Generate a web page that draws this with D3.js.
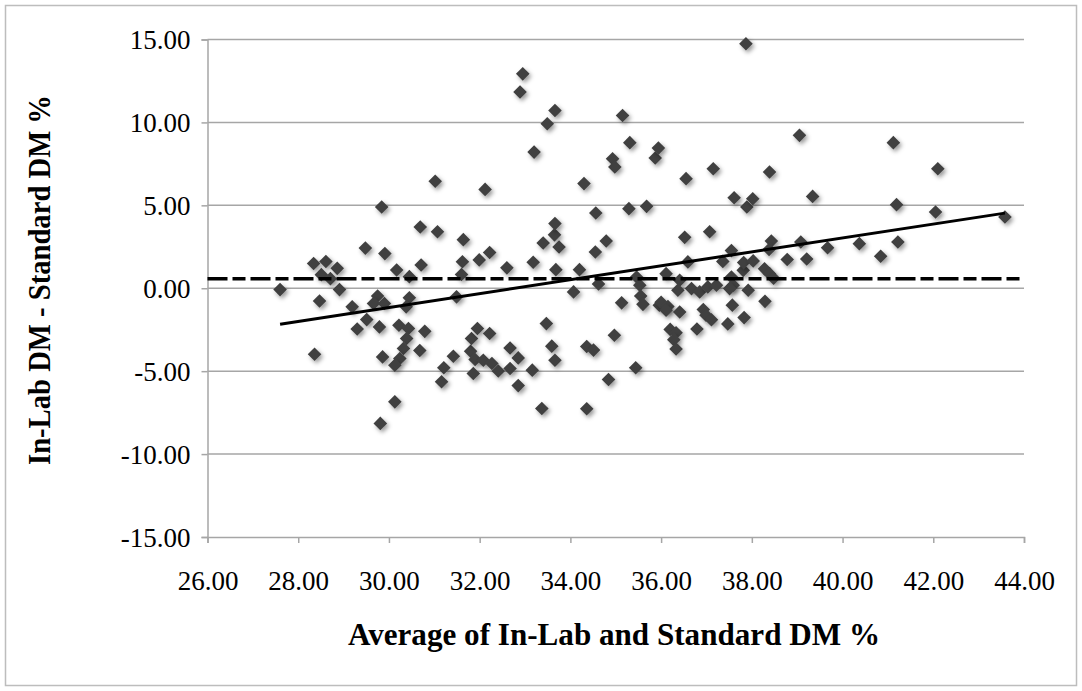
<!DOCTYPE html>
<html>
<head>
<meta charset="utf-8">
<script src="https://cdn.jsdelivr.net/npm/d3@7"></script>
<style>
  html, body { margin: 0; padding: 0; background: #fff; }
  svg { display: block; }
  text { font-family: "Liberation Serif", "Times New Roman", serif; fill: #000; }
</style>
</head>
<body>
<svg id="chart" width="1082" height="691"></svg>
<script>
// Bland-Altman style comparison: average of the two DM methods vs. their difference
const avgDM = [
  27.60, 28.34, 28.61, 28.86, 28.51, 28.71, 28.91, 28.47, 28.36,
  29.48, 29.91, 29.84, 29.19, 29.51, 29.30, 29.79, 29.75, 29.66, 29.90, 29.86, 30.13, 29.81,
  30.17, 30.45, 30.71, 30.69, 31.07, 31.02, 30.45, 30.38, 30.22, 30.43, 30.79, 30.39, 30.32, 30.24, 30.13, 30.68,
  31.64, 31.62, 31.60, 31.49, 31.21, 31.16, 31.42, 31.80, 31.82, 31.95, 31.90, 32.08, 31.86, 32.22, 31.99, 32.12, 32.22,
  32.60, 32.27, 32.41, 32.67, 32.85, 32.67, 32.85, 32.95, 32.89,
  33.16, 33.18, 33.20, 33.40, 33.65, 33.66, 33.75, 33.68, 33.49, 33.66, 33.47, 33.59, 33.66, 33.37,
  34.07, 34.20, 34.30, 34.56, 34.55, 34.79, 34.62, 34.93, 34.98, 34.36, 34.51, 34.36, 34.97, 34.84,
  35.13, 35.15, 35.31, 35.29, 35.46, 35.53, 35.55, 35.60, 35.68, 35.44, 35.87, 35.94, 35.96,
  36.11, 36.41, 36.37, 36.00, 36.15, 36.11, 36.41, 36.20, 36.33, 36.28, 36.33, 36.52, 36.55, 36.59, 36.67, 36.79, 36.85, 36.93, 36.99, 37.11,
  37.03, 37.22, 37.07, 37.15, 37.36, 37.55, 37.55, 37.59, 37.51, 37.57, 37.47, 37.61, 37.81, 37.82, 37.89, 37.87, 37.92, 37.83, 38.03, 38.02,
  38.28, 38.39, 38.48, 38.29, 38.39, 38.43, 38.38, 38.78,
  39.05, 39.08, 39.21, 39.34, 39.67, 40.37, 40.84, 41.12, 41.19, 41.22, 42.05, 42.10, 43.58
];
const diffDM = [
  -0.08, 1.49, 1.61, 1.20, 0.82, 0.58, -0.08, -0.77, -3.98,
  2.42, 2.09, 4.90, -1.12, -1.89, -2.46, -2.33, -0.47, -0.92, -0.92, -4.14, -6.85, -8.15,
  1.10, 0.70, 1.40, 3.69, 3.41, 6.45, -0.57, -1.12, -2.23, -2.43, -2.60, -3.03, -3.63, -4.24, -4.64, -3.75,
  2.93, 1.60, 0.83, -0.52, -4.79, -5.64, -4.10, -3.80, -3.03, -2.43, -4.30, -4.34, -5.14, -2.73, 1.71, 5.96, 2.16,
  1.23, -4.54, -4.99, -3.60, -4.20, -4.84, -5.87, 12.93, 11.83,
  -4.94, 1.57, 8.21, 2.73, 3.22, 3.90, 2.49, 1.12, 9.92, 10.72, -2.13, -3.49, -4.34, -7.25,
  -0.22, 1.12, 6.31, 4.54, 2.19, 2.85, 0.26, 7.81, 7.31, -3.51, -3.73, -7.27, -2.83, -5.50,
  -0.88, 10.42, 8.78, 4.80, 0.68, 0.18, -0.47, -0.97, 4.94, -4.79, 7.85, 8.45, -1.02,
  0.88, 0.48, -0.12, -0.85, -1.10, -1.33, -1.43, -2.48, -2.68, -3.10, -3.66, 3.07, 6.61, 1.59, -0.02, -2.46, -0.22, -1.28, -1.63, -1.90,
  0.08, 0.18, 3.41, 7.21, 1.62, 2.27, 0.68, 0.18, -0.02, -1.02, -2.15, 5.46, 1.08, 1.55, 4.90, 14.74, -0.12, -1.77, 1.65, 5.40,
  1.17, 0.88, 0.60, -0.79, 7.01, 2.85, 2.34, 1.73,
  9.22, 2.79, 1.76, 5.54, 2.44, 2.69, 1.93, 8.78, 5.04, 2.79, 4.60, 7.21, 4.30
];

// Mean difference (bias) and fitted trend of difference against average
const meanDiff = 0.58;
const trendSlope = 0.419;
const trendIntercept = -13.73;

const xTicks = [26, 28, 30, 32, 34, 36, 38, 40, 42, 44];
const yTicks = [-15, -10, -5, 0, 5, 10, 15];

const xTitle = "Average of In-Lab and Standard DM %";
const yTitle = "In-Lab DM - Standard DM %";

const svg = d3.select("#chart");
const W = 1082, H = 691;
const plot = { left: 207.5, right: 1024, top: 39.5, bottom: 537 };

const x = d3.scaleLinear().domain([26, 44]).range([plot.left, plot.right]);
const y = d3.scaleLinear().domain([-15, 15]).range([plot.bottom, plot.top]);

// two-decimal labels with a plain hyphen for negatives
const fmt = d => d3.format(".2f")(d).replace("\u2212", "-");

// outer chart frame
svg.append("rect")
  .attr("x", 5.5).attr("y", 5.5)
  .attr("width", W - 11).attr("height", H - 11)
  .attr("fill", "#fff").attr("stroke", "#bdbdbd").attr("stroke-width", 1.5);

// marker drop shadow
const defs = svg.append("defs");
const f = defs.append("filter").attr("id", "shadow")
  .attr("x", "-50%").attr("y", "-50%").attr("width", "200%").attr("height", "200%");
f.append("feDropShadow").attr("dx", 2).attr("dy", 2.5).attr("stdDeviation", 2.2)
  .attr("flood-color", "#000").attr("flood-opacity", 0.4);

// horizontal gridlines
svg.append("g").selectAll("line")
  .data(yTicks.filter(v => v > -15))
  .join("line")
  .attr("x1", plot.left).attr("x2", plot.right)
  .attr("y1", d => y(d)).attr("y2", d => y(d))
  .attr("stroke", "#a6a6a6").attr("stroke-width", 1.5);

// y axis
const yAxis = svg.append("g")
  .attr("transform", `translate(${plot.left},0)`)
  .call(d3.axisLeft(y).tickValues(yTicks).tickFormat(fmt).tickSizeOuter(0).tickSize(6).tickPadding(11));
// x axis
const xAxis = svg.append("g")
  .attr("transform", `translate(0,${plot.bottom})`)
  .call(d3.axisBottom(x).tickValues(xTicks).tickFormat(fmt).tickSizeOuter(0).tickSize(6).tickPadding(28));

[yAxis, xAxis].forEach(g => {
  g.selectAll(".domain, .tick line").attr("stroke", "#a6a6a6").attr("stroke-width", 1.5);
  g.selectAll(".tick text")
    .style("font-family", "'Liberation Serif', 'Times New Roman', serif")
    .style("font-size", "27px").attr("fill", "#000");
});
yAxis.selectAll(".tick text").attr("dy", "0.34em");

// points
svg.append("g").selectAll("path")
  .data(d3.zip(avgDM, diffDM))
  .join("path")
  .attr("d", d3.symbol(d3.symbolDiamond2, 118)())
  .attr("transform", d => `translate(${x(d[0])},${y(d[1])})`)
  .attr("fill", "#404040")
  .attr("filter", "url(#shadow)");

// mean difference line
svg.append("line")
  .attr("x1", plot.left).attr("x2", plot.right)
  .attr("y1", y(meanDiff)).attr("y2", y(meanDiff))
  .attr("stroke", "#000").attr("stroke-width", 3.5)
  .attr("stroke-dasharray", "20,5,13,5");

// trend line over the data range
const [xMin, xMax] = d3.extent(avgDM);
svg.append("line")
  .attr("x1", x(xMin)).attr("y1", y(trendIntercept + trendSlope * xMin))
  .attr("x2", x(xMax)).attr("y2", y(trendIntercept + trendSlope * xMax))
  .attr("stroke", "#000").attr("stroke-width", 3);

// axis titles
svg.append("text")
  .attr("x", 614).attr("y", 645)
  .attr("text-anchor", "middle")
  .attr("textLength", 532).attr("lengthAdjust", "spacingAndGlyphs")
  .style("font-weight", "bold").style("font-size", "31px")
  .text(xTitle);

svg.append("text")
  .attr("transform", `translate(50,280) rotate(-90)`)
  .attr("text-anchor", "middle")
  .attr("textLength", 370).attr("lengthAdjust", "spacingAndGlyphs")
  .style("font-weight", "bold").style("font-size", "31px")
  .text(yTitle);
</script>
</body>
</html>
